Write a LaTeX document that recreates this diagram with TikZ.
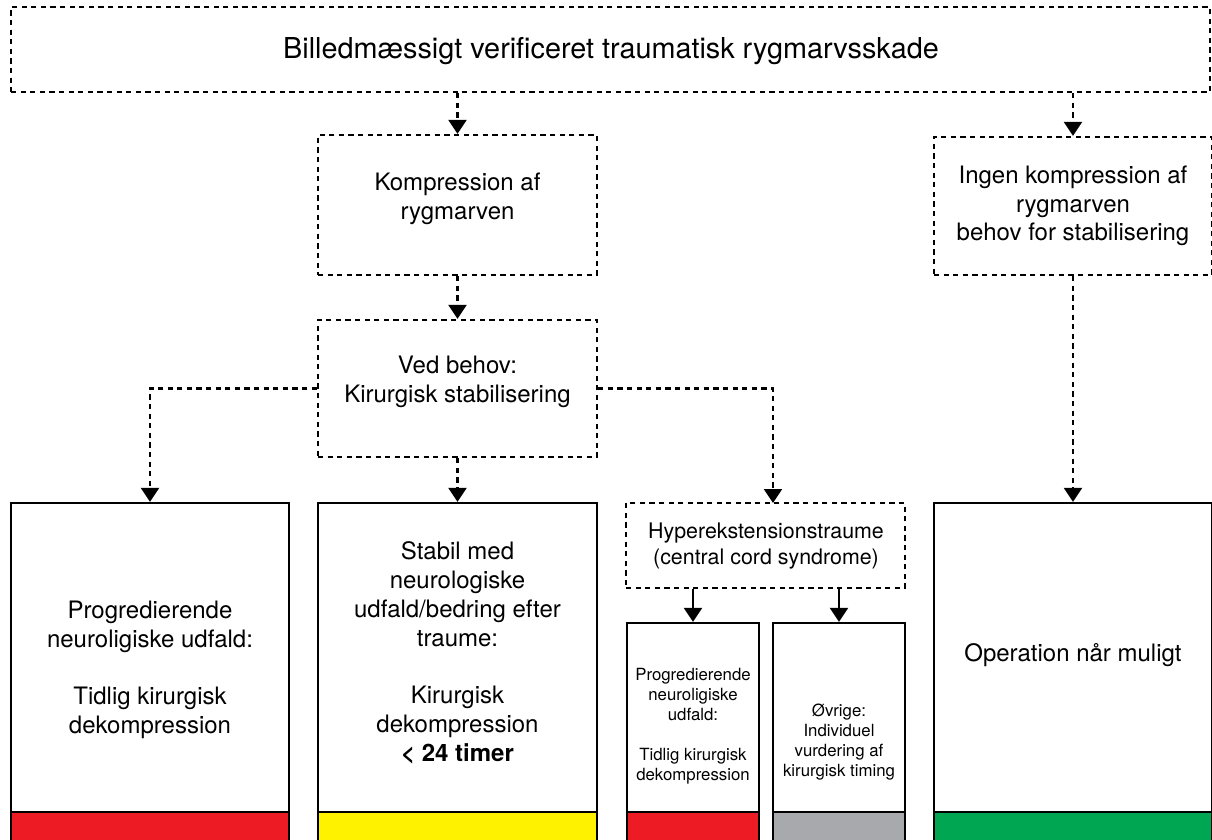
\documentclass[tikz,border=0pt]{standalone}
\usepackage{fontspec}
\setmainfont{TeX Gyre Heros}
\usetikzlibrary{arrows.meta,fit}
\definecolor{cred}{HTML}{ED1C24}
\definecolor{cyellow}{HTML}{FFF200}
\definecolor{cgray}{HTML}{A7A9AC}
\definecolor{cgreen}{HTML}{00A651}
\begin{document}
\begin{tikzpicture}[x=0.5pt,y=-0.5pt,
  dbox/.style={draw, line width=1.15pt, dash pattern=on 2.6pt off 2.2pt, inner sep=0pt},
  sbox/.style={draw, line width=1.15pt, inner sep=0pt},
  darr/.style={line width=1.15pt, dash pattern=on 2.6pt off 2.2pt, -{Triangle[width=9pt,length=7pt]}},
  sarr/.style={line width=1.15pt, -{Triangle[width=9pt,length=7pt]}},
  txt/.style={align=center, inner sep=0pt, font=\fontsize{12}{14.4}\selectfont},
  ttl/.style={align=center, inner sep=0pt, font=\fontsize{14.4}{17}\selectfont},
  mtxt/.style={align=center, inner sep=0pt, font=\fontsize{10.7}{13}\selectfont},
  stxt/.style={align=center, inner sep=0pt, font=\fontsize{8.4}{10}\selectfont}]
\useasboundingbox (0,0) rectangle (1212,840);
\clip (0,0) rectangle (1212,840);
% dashed boxes
\node[dbox, fit={(11,7) (1210,92)}] (top) {};
\node[dbox, fit={(318,135) (597,275)}] (komp) {};
\node[dbox, fit={(934,137) (1212,275)}] (ingen) {};
\node[dbox, fit={(318,320) (597,457)}] (ved) {};
\node[dbox, fit={(626,503) (905,588)}] (hyp) {};
% solid boxes
\node[sbox, fit={(11,503) (289,870)}] (lb) {};
\node[sbox, fit={(318,503) (597,870)}] (mb) {};
\node[sbox, fit={(934,503) (1212,870)}] (rb) {};
\node[sbox, fit={(627,623) (759,870)}] (sl) {};
\node[sbox, fit={(773,623) (905,870)}] (sr) {};
% colour bars
\node[sbox, fill=cred, fit={(11,812) (289,870)}] (lbbar) {};
\node[sbox, fill=cyellow, fit={(318,812) (597,870)}] (mbbar) {};
\node[sbox, fill=cred, fit={(627,812) (759,870)}] (slbar) {};
\node[sbox, fill=cgray, fit={(773,812) (905,870)}] (srbar) {};
\node[sbox, fill=cgreen, fit={(934,812) (1212,870)}] (rbbar) {};
% texts
\node[ttl] (ttop) at (611,51) {Billedmæssigt verificeret traumatisk rygmarvsskade};
\node[txt] (tkomp) at (457.5,199) {Kompression af\\rygmarven};
\node[txt] (tingen) at (1073,206) {Ingen kompression af\\rygmarven\\behov for stabilisering};
\node[txt] (tved) at (457.5,382) {Ved behov:\\Kirurgisk stabilisering};
\node[mtxt] (thyp) at (766,546) {Hyperekstensionstraume\\(central cord syndrome)};
\node[txt] (tlb) at (150,670) {Progredierende\\neuroligiske udfald:\\[14.4pt]Tidlig kirurgisk\\dekompression};
\node[txt] (tmb) at (457.5,653) {Stabil med\\neurologiske\\udfald/bedring efter\\traume:\\[14.4pt]Kirurgisk\\dekompression\\\textbf{< 24 timer}};
\node[stxt] (tsl) at (693,726) {Progredierende\\neuroligiske\\udfald:\\[10pt]Tidlig kirurgisk\\dekompression};
\node[stxt] (tsr) at (839,742) {Øvrige:\\Individuel\\vurdering af\\kirurgisk timing};
\node[txt] (trb) at (1073,655) {Operation når muligt};
% connectors
\coordinate (hypin) at (773,503);
\draw[darr] (top.south -| komp.north) -- (komp.north);
\draw[darr] (top.south -| ingen.north) -- (ingen.north);
\draw[darr] (komp.south) -- (ved.north);
\draw[darr] (ved.west) -| (lb.north);
\draw[darr] (ved.south) -- (mb.north);
\draw[darr] (ved.east) -| (hypin);
\draw[darr] (ingen.south) -- (rb.north);
\draw[sarr] (hyp.south -| sl.north) -- (sl.north);
\draw[sarr] (hyp.south -| sr.north) -- (sr.north);
\end{tikzpicture}
\end{document}
